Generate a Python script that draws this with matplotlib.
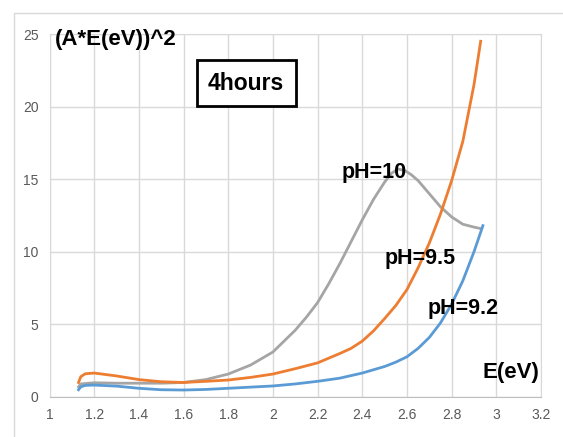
import numpy as np
import matplotlib.pyplot as plt
from matplotlib.lines import Line2D

# ==========================================
# Datos
# ==========================================
x_ph10 = [1.13, 1.14, 1.2, 1.3, 1.4, 1.5, 1.6, 1.7, 1.8, 1.9, 2.0, 2.1, 2.15, 2.2, 2.25,
          2.3, 2.35, 2.4, 2.45, 2.5, 2.53, 2.56, 2.59, 2.62, 2.65, 2.7, 2.75, 2.8,
          2.85, 2.9, 2.93]
y_ph10 = [0.7, 0.9, 0.98, 0.95, 0.95, 0.95, 1.0, 1.2, 1.58, 2.2, 3.1, 4.6, 5.5, 6.5, 7.8,
          9.2, 10.7, 12.2, 13.6, 14.8, 15.4, 15.7, 15.6, 15.3, 14.9, 14.0, 13.1, 12.4,
          11.9, 11.7, 11.6]

x_ph95 = [1.13, 1.14, 1.16, 1.2, 1.3, 1.4, 1.5, 1.6, 1.7, 1.8, 1.9, 2.0, 2.1, 2.2,
          2.3, 2.35, 2.4, 2.45, 2.5, 2.55, 2.6, 2.65, 2.7, 2.75, 2.8, 2.85, 2.9, 2.93]
y_ph95 = [1.0, 1.4, 1.6, 1.65, 1.45, 1.2, 1.05, 1.0, 1.08, 1.17, 1.35, 1.58, 1.95, 2.35,
          3.0, 3.35, 3.85, 4.55, 5.4, 6.3, 7.4, 8.9, 10.6, 12.6, 14.9, 17.6, 21.5, 24.5]

x_ph92 = [1.13, 1.14, 1.16, 1.2, 1.3, 1.4, 1.5, 1.6, 1.7, 1.8, 1.9, 2.0, 2.1, 2.2,
          2.3, 2.4, 2.5, 2.55, 2.6, 2.65, 2.7, 2.75, 2.8, 2.85, 2.9, 2.94]
y_ph92 = [0.5, 0.7, 0.8, 0.82, 0.75, 0.6, 0.5, 0.48, 0.52, 0.6, 0.68, 0.76, 0.9, 1.08,
          1.3, 1.65, 2.1, 2.4, 2.77, 3.35, 4.1, 5.1, 6.4, 8.0, 10.0, 11.8]

x_ticks = [1, 1.2, 1.4, 1.6, 1.8, 2, 2.2, 2.4, 2.6, 2.8, 3, 3.2]
y_ticks = [0, 5, 10, 15, 20, 25]

fuente = ['Liberation Sans', 'DejaVu Sans']
gris_rejilla = '#D9D9D9'

# ==========================================
# Figura
# ==========================================
fig = plt.figure(figsize=(5.63, 4.37), dpi=100)
ax = fig.add_axes([49.5 / 563, 40 / 437, (541 - 49.5) / 563, (397 - 34) / 437])

ax.plot(x_ph10, y_ph10, color='#A5A5A5', linewidth=2, zorder=3)
ax.plot(x_ph95, y_ph95, color='#ED7D31', linewidth=2, zorder=3)
ax.plot(x_ph92, y_ph92, color='#5B9BD5', linewidth=2, zorder=3)

ax.set_xlim(1, 3.2)
ax.set_ylim(0, 25)
ax.set_xticks(x_ticks)
ax.set_xticklabels([f'{v:g}' for v in x_ticks])
ax.set_yticks(y_ticks)
ax.tick_params(length=0, labelsize=10, labelcolor='#595959', pad=8)
for lab in ax.get_xticklabels() + ax.get_yticklabels():
    lab.set_family(fuente)
ax.grid(True, color=gris_rejilla, linewidth=1)
ax.set_axisbelow(True)
for lado in ['top', 'right', 'left']:
    ax.spines[lado].set_color(gris_rejilla)
ax.spines['bottom'].set_color('#BFBFBF')

# Textos
ax.text(1.025, 24.6, '(A*E(eV))^2', fontsize=16, fontweight='bold', family=fuente,
        ha='left', va='center')
ax.text(1.88, 21.6, '4hours', fontsize=16.5, fontweight='bold', family=fuente,
        ha='center', va='center',
        bbox=dict(boxstyle='square,pad=0.5', facecolor='white', edgecolor='black', linewidth=2))
ax.text(2.455, 15.45, 'pH=10', fontsize=15.5, fontweight='bold', family=fuente,
        ha='center', va='center', zorder=4)
ax.text(2.657, 9.55, 'pH=9.5', fontsize=15.5, fontweight='bold', family=fuente,
        ha='center', va='center', zorder=4)
ax.text(2.85, 6.1, 'pH=9.2', fontsize=15.5, fontweight='bold', family=fuente,
        ha='center', va='center', zorder=4)
ax.text(3.065, 1.7, 'E(eV)', fontsize=16, fontweight='bold', family=fuente,
        ha='center', va='center', zorder=4)

# Marco exterior del gráfico
fig.add_artist(Line2D([13.5 / 563, 13.5 / 563, 1], [0, 1 - 12.5 / 437, 1 - 12.5 / 437],
                      transform=fig.transFigure, color=gris_rejilla, linewidth=1))

fig.savefig('out.png', dpi=100)
